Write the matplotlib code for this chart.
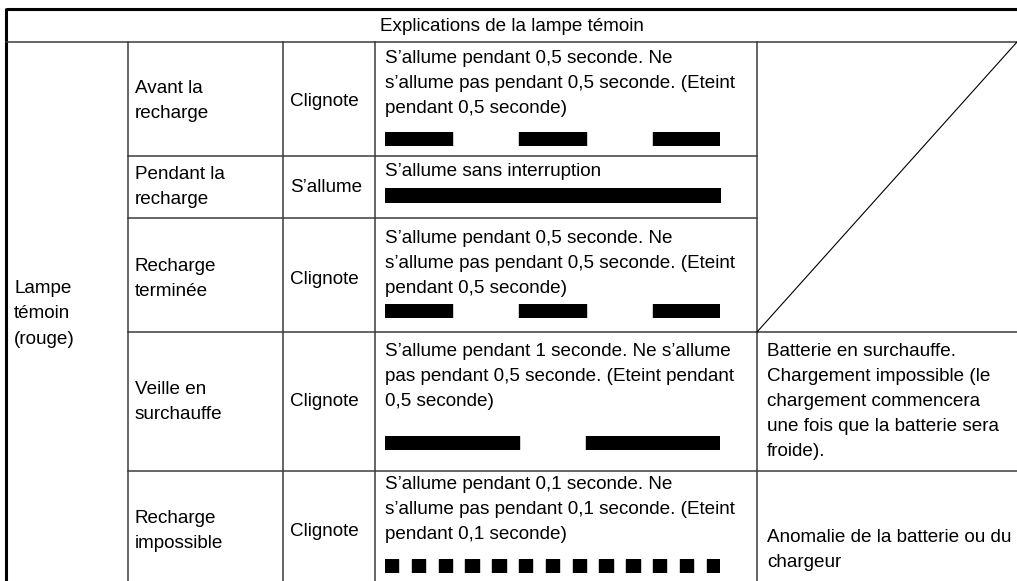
import matplotlib.pyplot as plt

plt.rcParams['font.family'] = ['Liberation Sans', 'DejaVu Sans']

# table texts
title = "Explications de la lampe témoin"
lamp_label = "Lampe\ntémoin\n(rouge)"
states = ["Avant la\nrecharge", "Pendant la\nrecharge", "Recharge\nterminée",
          "Veille en\nsurchauffe", "Recharge\nimpossible"]
actions = ["Clignote", "S’allume", "Clignote", "Clignote", "Clignote"]
descriptions = [
    "S’allume pendant 0,5 seconde. Ne\ns’allume pas pendant 0,5 seconde. (Eteint\npendant 0,5 seconde)",
    "S’allume sans interruption",
    "S’allume pendant 0,5 seconde. Ne\ns’allume pas pendant 0,5 seconde. (Eteint\npendant 0,5 seconde)",
    "S’allume pendant 1 seconde. Ne s’allume\npas pendant 0,5 seconde. (Eteint pendant\n0,5 seconde)",
    "S’allume pendant 0,1 seconde. Ne\ns’allume pas pendant 0,1 seconde. (Eteint\npendant 0,1 seconde)",
]
remarks = [None, None, None,
           "Batterie en surchauffe.\nChargement impossible (le\nchargement commencera\nune fois que la batterie sera\nfroide).",
           "Anomalie de la batterie ou du\nchargeur"]

# blink patterns in seconds: on, off, on, off, ...
patterns = [
    [0.5, 0.5, 0.5, 0.5, 0.5],
    [2.5],
    [0.5, 0.5, 0.5, 0.5, 0.5],
    [1.0, 0.5, 1.0],
    [0.1] * 25,
]

# layout (pixels)
W, H = 1017, 581
col_x = [6, 128, 283, 375, 757, 1017]
row_y = [9, 42, 156, 218, 332, 471, 592]
row_mid = [101, 187, 279, 402, 531]
desc_top = [50, 163, 230, 343, 476]
bar_y = [132, 188, 304, 436, 559]
bar_h = 14
remark_top = [None, None, None, 343, 529]

fig = plt.figure(figsize=(W / 100, H / 100), dpi=100)
ax = fig.add_axes([0, 0, 1, 1])
ax.set_xlim(0, W)
ax.set_ylim(H, 0)
ax.axis('off')

lc = '#3c3c3c'
lw = 1.1
# outer thick border
ax.plot([col_x[0], W], [row_y[0], row_y[0]], color='black', lw=2.2, solid_capstyle='butt')
ax.plot([col_x[0], col_x[0]], [row_y[0] - 1, H], color='black', lw=2.2, solid_capstyle='butt')
# title row bottom
ax.plot([col_x[0], W], [row_y[1], row_y[1]], color=lc, lw=lw)
# vertical lines
for x in col_x[1:5]:
    ax.plot([x, x], [row_y[1], H], color=lc, lw=lw)
# horizontal lines
for i in range(2, 6):
    x_end = col_x[4] if i in (2, 3) else W
    ax.plot([col_x[1], x_end], [row_y[i], row_y[i]], color=lc, lw=lw)
# diagonal in empty merged cell
ax.plot([col_x[4], W], [row_y[4], row_y[1]], color='black', lw=0.8)

fs = 13.6
ls = 1.62
ax.text((col_x[0] + W) / 2, 26.5, title, ha='center', va='center', fontsize=fs)
ax.text(col_x[0] + 8, 314, lamp_label, ha='left', va='center', fontsize=fs, linespacing=ls)

for i in range(5):
    ax.text(col_x[1] + 7, row_mid[i], states[i], ha='left', va='center', fontsize=fs, linespacing=ls)
    ax.text(col_x[2] + 7, row_mid[i], actions[i], ha='left', va='center', fontsize=fs)
    ax.text(col_x[3] + 10, desc_top[i], descriptions[i], ha='left', va='top', fontsize=fs, linespacing=ls)
    if remarks[i]:
        ax.text(col_x[4] + 10, remark_top[i], remarks[i], ha='left', va='top', fontsize=fs, linespacing=ls)

    # blink pattern bar
    bx = fig.add_axes([385 / W, 1 - (bar_y[i] + bar_h) / H, 335 / W, bar_h / H])
    bx.set_xlim(0, sum(patterns[i]))
    bx.set_ylim(0, 1)
    bx.axis('off')
    segs = []
    t = 0
    for k, d in enumerate(patterns[i]):
        if k % 2 == 0:
            segs.append((t, d))
        t += d
    bx.broken_barh(segs, (0, 1), color='black')

fig.savefig('out.png', dpi=100)
